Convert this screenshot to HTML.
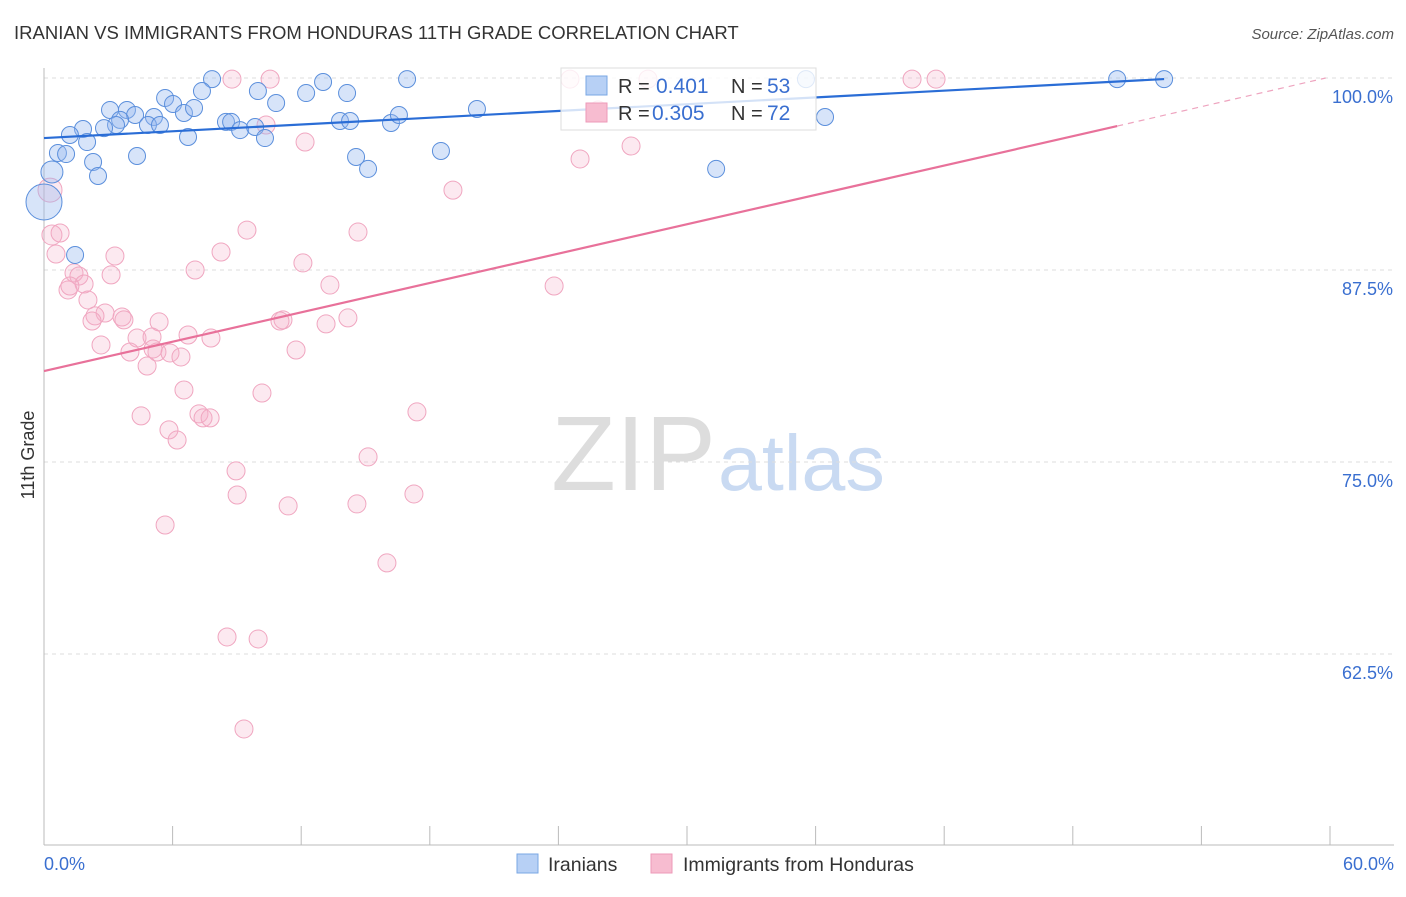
<!DOCTYPE html>
<html><head><meta charset="utf-8"><style>
body{margin:0;background:#fff;font-family:"Liberation Sans",sans-serif}
svg text{font-family:"Liberation Sans",sans-serif}
</style></head><body>
<svg id="c" width="1406" height="892" xmlns="http://www.w3.org/2000/svg">
<text x="14" y="39" font-size="18.5" fill="#333">IRANIAN VS IMMIGRANTS FROM HONDURAS 11TH GRADE CORRELATION CHART</text>
<text x="1394" y="39" font-size="15" fill="#555" text-anchor="end" font-style="italic">Source: ZipAtlas.com</text>
<text x="716" y="490" font-size="106" fill="#ddd" text-anchor="end" font-family="Liberation Serif">ZIP</text>
<text x="718" y="490" font-size="79" fill="#c9daf2">atlas</text>
<text transform="translate(34,455) rotate(-90)" font-size="18" fill="#333" text-anchor="middle">11th Grade</text>
<g id="grid"></g><g id="marks"></g>
<g>
<rect x="561" y="68" width="255" height="62" fill="#fff" fill-opacity="0.8" stroke="#ddd"/>
<rect x="586" y="76" width="21" height="19" fill="#b7d0f5" stroke="#7aa7e4"/>
<rect x="586" y="103" width="21" height="19" fill="#f7bcd0" stroke="#ee9ab8"/>
<text x="618" y="93" font-size="20" fill="#333">R =</text>
<text x="656" y="93" font-size="21" fill="#3a6fd0">0.401</text>
<text x="731" y="93" font-size="20" fill="#333">N =</text>
<text x="767" y="93" font-size="21" fill="#3a6fd0">53</text>
<text x="618" y="120" font-size="20" fill="#333">R =</text>
<text x="652" y="120" font-size="21" fill="#3a6fd0">0.305</text>
<text x="731" y="120" font-size="20" fill="#333">N =</text>
<text x="767" y="120" font-size="21" fill="#3a6fd0">72</text>
</g>
<g>
<rect x="517" y="854" width="21" height="19" fill="#b7d0f5" stroke="#7aa7e4"/>
<text x="548" y="871" font-size="19.5" fill="#333">Iranians</text>
<rect x="651" y="854" width="21" height="19" fill="#f7bcd0" stroke="#ee9ab8"/>
<text x="683" y="871" font-size="19.5" fill="#333">Immigrants from Honduras</text>
</g>
</svg>
<script>
const yTicks=[100,87.5,75,62.5];
const yTickLabels=["100.0%","87.5%","75.0%","62.5%"];
const xTickLabels=["0.0%","60.0%"];
const blueX=[7.84,16.94,13.02,35.55,50.07,52.26,5.65,7.37,9.98,12.23,14.14,3.08,3.87,4.25,6.02,6.53,7.00,10.83,5.13,3.55,4.85,5.41,3.36,2.80,1.82,1.21,8.49,8.73,9.15,9.85,13.81,14.28,16.19,16.56,20.20,36.44,6.72,10.31,2.01,0.65,1.03,4.34,2.29,14.56,15.12,18.52,31.36,2.52,0.37,0,1.45];
const blueY=[99.93,99.93,99.74,99.93,99.93,99.93,98.70,99.15,99.15,99.02,99.02,97.92,97.92,97.59,98.31,97.72,98.05,98.37,97.46,97.27,96.94,96.94,96.94,96.74,96.68,96.29,97.14,97.14,96.61,96.81,97.20,97.20,97.07,97.59,97.98,97.46,96.16,96.09,95.83,95.12,95.05,94.92,94.53,94.86,94.08,95.25,94.08,93.62,93.88,91.93,88.48];
const pinkX=[8.77,10.55,24.54,28.18,40.50,41.62,25.85,10.36,12.18,25.01,27.39,19.08,0.28,0.37,0.75,0.56,9.47,14.65,3.31,8.26,12.08,7.05,1.40,1.63,3.13,1.12,1.87,1.21,13.34,23.80,2.05,2.85,2.38,2.24,3.64,3.73,5.37,11.15,11.01,14.18,13.16,6.72,7.79,4.34,5.04,2.66,4.01,5.27,5.09,5.88,6.39,11.76,4.81,6.53,10.17,17.40,4.53,7.23,7.42,7.75,5.83,6.21,15.12,8.96,9.01,17.26,11.39,14.60,5.65,16.00,8.54,9.99,9.33];
const pinkY=[99.93,99.93,99.93,99.93,99.93,99.93,97.92,96.94,95.83,94.73,95.57,92.70,92.70,89.78,89.91,88.54,90.10,89.97,88.41,88.67,87.96,87.50,87.31,87.11,87.18,86.20,86.59,86.46,86.52,86.46,85.55,84.70,84.51,84.18,84.44,84.25,84.12,84.25,84.18,84.38,83.99,83.27,83.07,83.07,83.14,82.62,82.16,82.16,82.36,82.10,81.84,82.29,81.25,79.69,79.49,78.26,78.00,78.13,77.87,77.87,77.09,76.43,75.33,74.42,72.85,72.92,72.14,72.27,70.90,68.43,63.61,63.48,57.62];
const blueSize=[];blueSize[48]=11;blueSize[49]=18;
const pinkSize=[];pinkSize[12]=12;pinkSize[13]=10;
const blueTrend=[[0,96.09],[52.26,99.93]];
const pinkTrend=[[0,80.92],[50.07,96.87]];
const pinkDash=[[50.07,96.87],[59.8,100]];
const X=v=>44+v/60*1286;
const Y=v=>78+(100-v)*15.36;
const NS="http://www.w3.org/2000/svg";
const g=document.getElementById('grid'),m=document.getElementById('marks');
function mk(tag,attrs,parent){const e=document.createElementNS(NS,tag);for(const k in attrs)e.setAttribute(k,attrs[k]);parent.appendChild(e);return e;}
yTicks.forEach((t,i)=>{
 const l=mk('line',{x1:44,x2:1394,y1:Y(t),y2:Y(t),stroke:'#ddd','stroke-dasharray':'4 4'},g);
 
 
 const tx=mk('text',{x:1393,y:Y(t)+25,'font-size':18,fill:'#3a6fd0','text-anchor':'end'},g);
 tx.textContent=yTickLabels[i];
 
 
});
const ax=mk('line',{x1:44,x2:44,y1:68,y2:845,stroke:'#bbb'},g);


const bx=mk('line',{x1:44,x2:1394,y1:845,y2:845,stroke:'#bbb'},g);


for(let i=0;i<=10;i++){const t=mk('line',{x1:X(i*6),x2:X(i*6),y1:826,y2:845,stroke:'#bbb'},g);
 
 }
[[0,'start',44],[60,'end',1394]].forEach((a,i)=>{const t=mk('text',{x:a[2],y:870,'font-size':18,fill:'#3a6fd0','text-anchor':a[1]},g);t.textContent=xTickLabels[i];
 
 });
pinkX.forEach((x,i)=>{const c=mk('circle',{cx:X(x),cy:Y(pinkY[i]),r:pinkSize[i]||9,fill:'rgba(246,175,200,0.28)',stroke:'#f0a6c0','stroke-width':1},m);
 
 });
blueX.forEach((x,i)=>{const c=mk('circle',{cx:X(x),cy:Y(blueY[i]),r:blueSize[i]||8.5,fill:'rgba(150,185,240,0.38)',stroke:'#5b8fdc','stroke-width':1},m);
 
 });
const bl=mk('line',{x1:X(blueTrend[0][0]),y1:Y(blueTrend[0][1]),x2:X(blueTrend[1][0]),y2:Y(blueTrend[1][1]),stroke:'#2a6dd6','stroke-width':2.2},m);


const pl=mk('line',{x1:X(pinkTrend[0][0]),y1:Y(pinkTrend[0][1]),x2:X(pinkTrend[1][0]),y2:Y(pinkTrend[1][1]),stroke:'#e8719a','stroke-width':2.2},m);


const pd=mk('line',{x1:X(pinkDash[0][0]),y1:Y(pinkDash[0][1]),x2:X(pinkDash[1][0]),y2:Y(pinkDash[1][1]),stroke:'#eea4bf','stroke-width':1.2,'stroke-dasharray':'6 5'},m);


</script>
</body></html>
